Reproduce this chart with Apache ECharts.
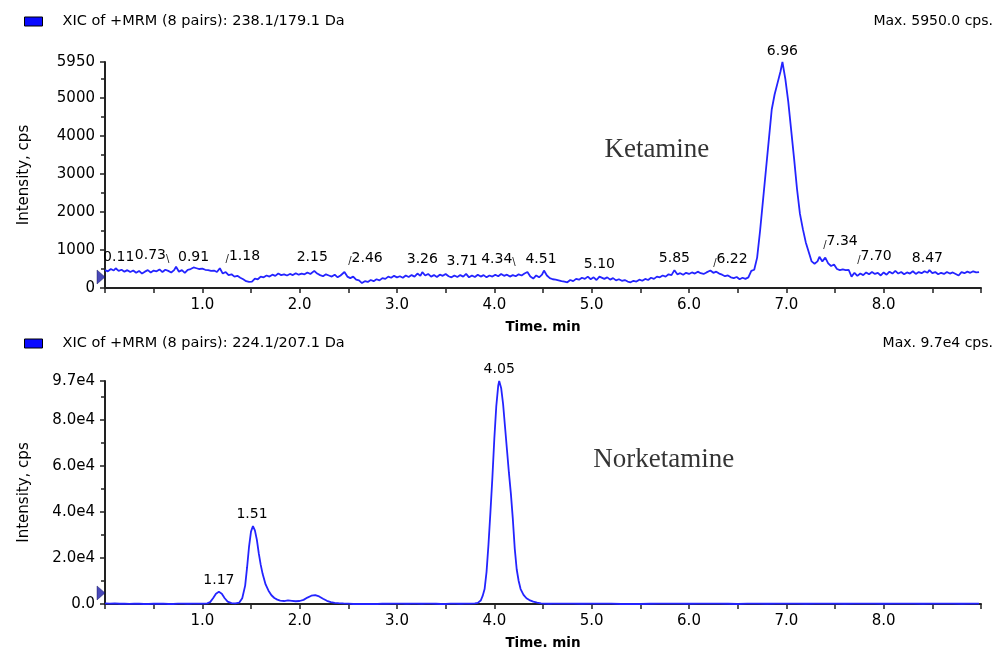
<!DOCTYPE html>
<html>
<head>
<meta charset="utf-8">
<script src="https://cdn.jsdelivr.net/npm/echarts@6/dist/echarts.min.js"></script>
<style>html,body{margin:0;padding:0;background:#fff}#c{width:1003px;height:653px}</style>
</head>
<body>
<div id="c"></div>
<script>
// ---------------- data ----------------
const ketamineName = 'XIC of +MRM (8 pairs): 238.1/179.1 Da';
const norketamineName = 'XIC of +MRM (8 pairs): 224.1/207.1 Da';
const ketamineMaxText = 'Max. 5950.0 cps.';
const norketamineMaxText = 'Max. 9.7e4 cps.';
const ketamineAnnotation = 'Ketamine';
const norketamineAnnotation = 'Norketamine';
const xAxisName = 'Time. min';
const yAxisName = 'Intensity, cps';
const ketamineYMax = 5950;
const norketamineYMax = 97000;
const timeMin = 0, timeMax = 9;

const ketamineTrace = [
[0.00,470],[0.03,440],[0.06,500],[0.09,460],[0.11,520],[0.14,450],[0.17,480],[0.20,430],[0.23,470],[0.26,420],
[0.29,460],[0.32,400],[0.35,450],[0.38,380],[0.41,430],[0.44,470],[0.47,410],[0.50,460],[0.53,440],[0.56,490],
[0.59,420],[0.62,480],[0.65,450],[0.68,410],[0.71,470],[0.73,560],[0.76,430],[0.79,470],[0.82,400],[0.85,480],
[0.88,500],[0.91,540],[0.94,520],[0.97,500],[1.00,510],[1.03,480],[1.06,470],[1.09,450],[1.12,460],[1.15,420],
[1.18,520],[1.21,380],[1.24,420],[1.27,340],[1.30,360],[1.33,300],[1.36,320],[1.39,270],[1.42,230],[1.45,180],
[1.48,160],[1.51,170],[1.54,250],[1.57,230],[1.60,300],[1.63,280],[1.66,330],[1.69,300],[1.72,350],[1.75,320],
[1.78,380],[1.81,340],[1.84,360],[1.87,330],[1.90,370],[1.93,340],[1.96,390],[1.99,350],[2.02,380],[2.05,360],
[2.08,410],[2.11,370],[2.15,450],[2.18,380],[2.21,340],[2.24,310],[2.27,360],[2.30,330],[2.33,300],[2.36,350],
[2.39,280],[2.42,330],[2.46,420],[2.49,300],[2.52,260],[2.55,300],[2.58,220],[2.61,200],[2.64,130],[2.67,180],
[2.70,160],[2.73,210],[2.76,180],[2.79,230],[2.82,200],[2.85,260],[2.88,240],[2.91,300],[2.94,270],[2.97,320],
[3.00,280],[3.03,310],[3.06,270],[3.09,330],[3.12,290],[3.15,340],[3.18,300],[3.21,380],[3.24,320],[3.26,420],
[3.29,330],[3.32,370],[3.35,300],[3.38,340],[3.41,290],[3.44,350],[3.47,320],[3.50,370],[3.53,310],[3.56,280],
[3.59,330],[3.62,290],[3.65,340],[3.68,300],[3.71,370],[3.74,280],[3.77,330],[3.80,290],[3.83,350],[3.86,300],
[3.89,340],[3.92,280],[3.95,330],[3.98,300],[4.01,350],[4.04,310],[4.07,370],[4.10,320],[4.13,350],[4.16,300],
[4.19,340],[4.22,310],[4.25,360],[4.28,330],[4.31,380],[4.34,420],[4.37,300],[4.40,250],[4.43,330],[4.46,280],
[4.49,350],[4.51,460],[4.54,330],[4.57,260],[4.60,230],[4.63,220],[4.66,200],[4.69,180],[4.72,170],[4.75,150],
[4.78,210],[4.81,180],[4.84,240],[4.87,220],[4.90,270],[4.93,240],[4.96,300],[4.99,230],[5.02,280],[5.05,210],
[5.08,300],[5.10,330],[5.13,240],[5.16,280],[5.19,220],[5.22,260],[5.25,200],[5.28,230],[5.31,190],[5.34,210],
[5.37,170],[5.40,150],[5.43,190],[5.46,170],[5.49,220],[5.52,190],[5.55,240],[5.58,210],[5.61,270],[5.64,240],
[5.67,300],[5.70,280],[5.73,330],[5.76,300],[5.79,360],[5.82,340],[5.85,470],[5.88,360],[5.91,390],[5.94,350],
[5.97,400],[6.00,370],[6.03,410],[6.06,380],[6.09,430],[6.12,390],[6.15,370],[6.18,410],[6.22,460],[6.25,400],
[6.28,430],[6.31,380],[6.34,350],[6.37,310],[6.40,330],[6.43,280],[6.46,260],[6.49,290],[6.52,230],[6.55,270],
[6.58,240],[6.61,280],[6.64,450],[6.67,480],[6.70,800],[6.73,1500],[6.76,2300],[6.79,3100],[6.82,3900],[6.85,4700],
[6.88,5100],[6.91,5400],[6.94,5700],[6.96,5950],[6.99,5500],[7.02,4900],[7.05,4150],[7.08,3400],[7.11,2600],[7.14,1950],
[7.17,1550],[7.20,1200],[7.23,950],[7.26,700],[7.29,640],[7.32,700],[7.34,820],[7.37,700],[7.40,800],[7.43,650],
[7.46,580],[7.49,620],[7.52,500],[7.55,470],[7.58,490],[7.61,470],[7.64,480],[7.67,300],[7.70,400],[7.73,320],
[7.76,380],[7.79,340],[7.82,410],[7.85,360],[7.88,420],[7.91,370],[7.94,400],[7.97,330],[8.00,410],[8.03,350],
[8.06,430],[8.09,380],[8.12,450],[8.15,380],[8.18,420],[8.21,360],[8.24,410],[8.27,380],[8.30,440],[8.33,370],
[8.36,420],[8.39,390],[8.42,440],[8.45,400],[8.47,470],[8.50,390],[8.53,420],[8.56,360],[8.59,400],[8.62,370],
[8.65,420],[8.68,380],[8.71,410],[8.74,370],[8.77,330],[8.80,420],[8.83,390],[8.86,430],[8.89,400],[8.92,440],
[8.95,410],[8.98,420]
];

const norketamineTrace = [
[0.00,300],[0.05,150],[0.10,250],[0.15,100],[0.20,200],[0.25,50],[0.30,150],[0.35,100],[0.40,0],[0.45,0],
[0.50,150],[0.55,100],[0.60,200],[0.65,0],[0.70,0],[0.75,150],[0.80,200],[0.85,100],[0.90,200],[0.95,150],
[1.00,200],[1.05,300],[1.08,800],[1.11,2500],[1.14,4500],[1.17,5300],[1.20,4500],[1.23,2500],[1.26,1000],[1.30,400],
[1.34,300],[1.38,600],[1.41,2500],[1.44,8000],[1.46,16000],[1.48,25000],[1.50,31500],[1.52,33900],[1.54,32000],[1.56,28000],
[1.58,22000],[1.60,17000],[1.62,13000],[1.65,8500],[1.68,5800],[1.71,3800],[1.74,2600],[1.77,1900],[1.80,1500],[1.84,1300],
[1.88,1600],[1.92,1400],[1.96,1200],[2.00,1300],[2.04,1800],[2.08,2800],[2.12,3600],[2.16,3900],[2.20,3300],[2.24,2300],
[2.28,1400],[2.32,800],[2.36,500],[2.40,350],[2.45,250],[2.50,200],[2.55,0],[2.60,0],[2.70,0],[2.80,0],
[2.85,150],[2.90,100],[2.95,200],[3.00,150],[3.05,200],[3.10,100],[3.15,200],[3.20,150],[3.25,100],[3.30,200],
[3.35,150],[3.40,100],[3.45,0],[3.50,0],[3.55,150],[3.60,200],[3.65,100],[3.70,200],[3.75,150],[3.80,300],
[3.83,500],[3.86,1500],[3.88,3500],[3.90,6500],[3.92,14000],[3.94,26000],[3.96,40000],[3.98,55000],[4.00,72000],[4.02,86000],
[4.04,95000],[4.05,97000],[4.07,94000],[4.09,87000],[4.11,77000],[4.13,67000],[4.15,57000],[4.17,48000],[4.19,37000],[4.21,24000],
[4.23,15000],[4.25,10000],[4.27,6500],[4.30,4000],[4.33,2500],[4.36,1700],[4.40,1000],[4.44,600],[4.48,300],[4.52,200],
[4.56,100],[4.60,200],[4.70,150],[4.80,200],[4.90,100],[5.00,200],[5.10,150],[5.20,200],[5.30,0],[5.40,0],
[5.50,0],[5.60,100],[5.70,200],[5.80,150],[5.90,200],[6.00,100],[6.10,200],[6.20,150],[6.30,200],[6.40,100],
[6.50,0],[6.60,150],[6.70,200],[6.80,100],[6.90,200],[7.00,150],[7.10,200],[7.20,100],[7.30,200],[7.40,150],
[7.50,200],[7.60,100],[7.70,200],[7.80,150],[7.90,200],[8.00,100],[8.10,200],[8.20,150],[8.30,200],[8.40,100],
[8.50,200],[8.60,150],[8.70,200],[8.80,100],[8.90,200],[8.98,150]
];

// peak labels: [retention time, peak height]
const ketaminePeaks = [[0.11,520],[0.73,560],[0.91,540],[1.18,520],[2.15,450],[2.46,420],[3.26,420],[3.71,370],[4.34,420],
  [4.51,460],[5.10,330],[5.85,470],[6.22,460],[6.96,5950],[7.34,820],[7.70,400],[8.47,470]];
const norketaminePeaks = [[1.17,5300],[1.51,33900],[4.05,97000]];
// annotation anchors: [time, intensity]
const ketamineAnnotationAt = [5.67, 3630];
const norketamineAnnotationAt = [5.74, 62600];
const thresholdKetamine = 290;
const thresholdNorketamine = 4800;

// ---------------- styling ----------------
const ketLabelShift = [[3,1],[-24,2],[0,1],[23,1],[-2,-2],[21,-1],[0,-1],[-4,-1],[-29,0],[-3,0],[-2,0],[0,0],[20,2],[0,1],[21,-2],[20,-3],[-2,0]];
// leader stroke side: 0 none, 1 before text (label moved right), 2 after text (label moved left)
const ketLeader = [0,2,0,1,0,1,0,0,2,0,0,0,1,0,1,1,0];

const traceColor = '#2424ff';
const textColor = '#000';
const sans = 'DejaVu Sans, Verdana, sans-serif';

function peakSeries(peaks, idx, shifts, leaders) {
  return {
    type: 'scatter', xAxisIndex: idx, yAxisIndex: idx, silent: true, z: 5,
    symbol: 'circle', symbolSize: 1, clip: false,
    itemStyle: { color: 'rgba(0,0,0,0)' },
    label: {
      show: true, position: 'top', distance: 4, color: textColor, opacity: 1, fontFamily: sans, fontSize: 14,
      formatter: p => {
        const t = p.value[0].toFixed(2);
        const side = leaders ? leaders[p.dataIndex] : 0;
        if (side === 1) return '{a|/}' + t;
        if (side === 2) return t + '{b|\\}';
        return t;
      },
      rich: {
        a: { fontFamily: sans, fontSize: 10, color: '#111', padding: [7, 0, 0, 0] },
        b: { fontFamily: sans, fontSize: 10, color: '#111', padding: [7, 0, 0, 0] }
      }
    },
    data: peaks.map((p, i) => {
      const item = { value: p };
      if (shifts) item.label = { offset: shifts[i] };
      return item;
    })
  };
}

function annotationSeries(at, text, idx) {
  return {
    type: 'scatter', xAxisIndex: idx, yAxisIndex: idx, silent: true, symbolSize: 0,
    label: { show: true, position: 'inside', formatter: text, color: '#000',
      fontFamily: 'Liberation Serif, Times New Roman, serif', fontSize: 27 },
    data: [at]
  };
}

function thresholdSeries(v, idx) {
  return {
    type: 'scatter', xAxisIndex: idx, yAxisIndex: idx, silent: true, clip: false, z: 6,
    symbol: 'triangle', symbolRotate: -90, symbolSize: [14, 8], symbolOffset: [-4, 0],
    itemStyle: { color: '#1c1ca8', borderColor: '#0a0a50', borderWidth: 0.5 },
    data: [[timeMin, v]]
  };
}

function xAxis(idx) {
  return {
    type: 'value', gridIndex: idx, min: timeMin, max: timeMax, interval: 1,
    name: xAxisName, nameLocation: 'middle', nameGap: 32,
    nameTextStyle: { fontFamily: sans, fontSize: 13.5, fontWeight: 'bold', color: textColor },
    axisLine: { show: true, onZero: false, lineStyle: { color: '#222', width: 2 } },
    axisTick: { show: true, length: 5, lineStyle: { color: '#222', width: 1.5 } },
    minorTick: { show: true, splitNumber: 2, length: 5, lineStyle: { color: '#222', width: 1.5 } },
    splitLine: { show: false },
    axisLabel: { margin: 10, fontFamily: sans, fontSize: 15, color: textColor,
      formatter: v => (v <= timeMin || v >= timeMax) ? '' : v.toFixed(1) }
  };
}

function yAxis(idx, max, interval, fmt) {
  return {
    type: 'value', gridIndex: idx, min: 0, max: max, interval: interval,
    name: yAxisName, nameLocation: 'middle', nameRotate: 90, nameGap: 73,
    nameTextStyle: { fontFamily: sans, fontSize: 15, color: textColor },
    axisLine: { show: true, lineStyle: { color: '#222', width: 2 } },
    axisTick: { show: true, length: 5, lineStyle: { color: '#222', width: 1.5 } },
    minorTick: { show: true, splitNumber: 2, length: 4, lineStyle: { color: '#222', width: 1.5 } },
    splitLine: { show: false },
    axisLabel: { margin: 10, fontFamily: sans, fontSize: 15, color: textColor, formatter: fmt, showMaxLabel: true }
  };
}

const chart = echarts.init(document.getElementById('c'), null, { renderer: 'canvas' });
chart.setOption({
  animation: false,
  backgroundColor: '#fff',
  title: [
    { text: ketamineMaxText, right: 10, top: 14, padding: 0, textStyle: { fontFamily: sans, fontSize: 14, fontWeight: 'normal', color: textColor } },
    { text: norketamineMaxText, right: 10, top: 336, padding: 0, textStyle: { fontFamily: sans, fontSize: 14, fontWeight: 'normal', color: textColor } }
  ],
  legend: [
    { data: [ketamineName], left: 24, top: 14, padding: 0, icon: 'rect', itemWidth: 18, itemHeight: 9,
      itemStyle: { color: '#0a0aff', borderColor: '#000', borderWidth: 1 },
      textStyle: { fontFamily: sans, fontSize: 14.5, color: textColor, padding: [0, 0, 0, 15] } },
    { data: [norketamineName], left: 24, top: 336, padding: 0, icon: 'rect', itemWidth: 18, itemHeight: 9,
      itemStyle: { color: '#0a0aff', borderColor: '#000', borderWidth: 1 },
      textStyle: { fontFamily: sans, fontSize: 14.5, color: textColor, padding: [0, 0, 0, 15] } }
  ],
  grid: [
    { left: 105, right: 22, top: 62, height: 226, containLabel: false, outerBoundsMode: 'none' },
    { left: 105, right: 22, top: 381, height: 223, containLabel: false, outerBoundsMode: 'none' }
  ],
  xAxis: [xAxis(0), xAxis(1)],
  yAxis: [
    yAxis(0, ketamineYMax, 1000, v => String(v)),
    yAxis(1, norketamineYMax, 20000, v => v === 0 ? '0.0' : (v / 10000).toFixed(1) + 'e4')
  ],
  series: [
    { name: ketamineName, type: 'line', xAxisIndex: 0, yAxisIndex: 0, data: ketamineTrace, showSymbol: false,
      symbol: 'none', lineStyle: { color: traceColor, width: 1.8 }, itemStyle: { color: traceColor }, silent: true, z: 3 },
    { name: norketamineName, type: 'line', xAxisIndex: 1, yAxisIndex: 1, data: norketamineTrace, showSymbol: false,
      symbol: 'none', lineStyle: { color: traceColor, width: 1.8 }, itemStyle: { color: traceColor }, silent: true, z: 3 },
    peakSeries(ketaminePeaks, 0, ketLabelShift, ketLeader),
    peakSeries(norketaminePeaks, 1, null, null),
    annotationSeries(ketamineAnnotationAt, ketamineAnnotation, 0),
    annotationSeries(norketamineAnnotationAt, norketamineAnnotation, 1),
    thresholdSeries(thresholdKetamine, 0),
    thresholdSeries(thresholdNorketamine, 1)
  ]
});
</script>
</body>
</html>
